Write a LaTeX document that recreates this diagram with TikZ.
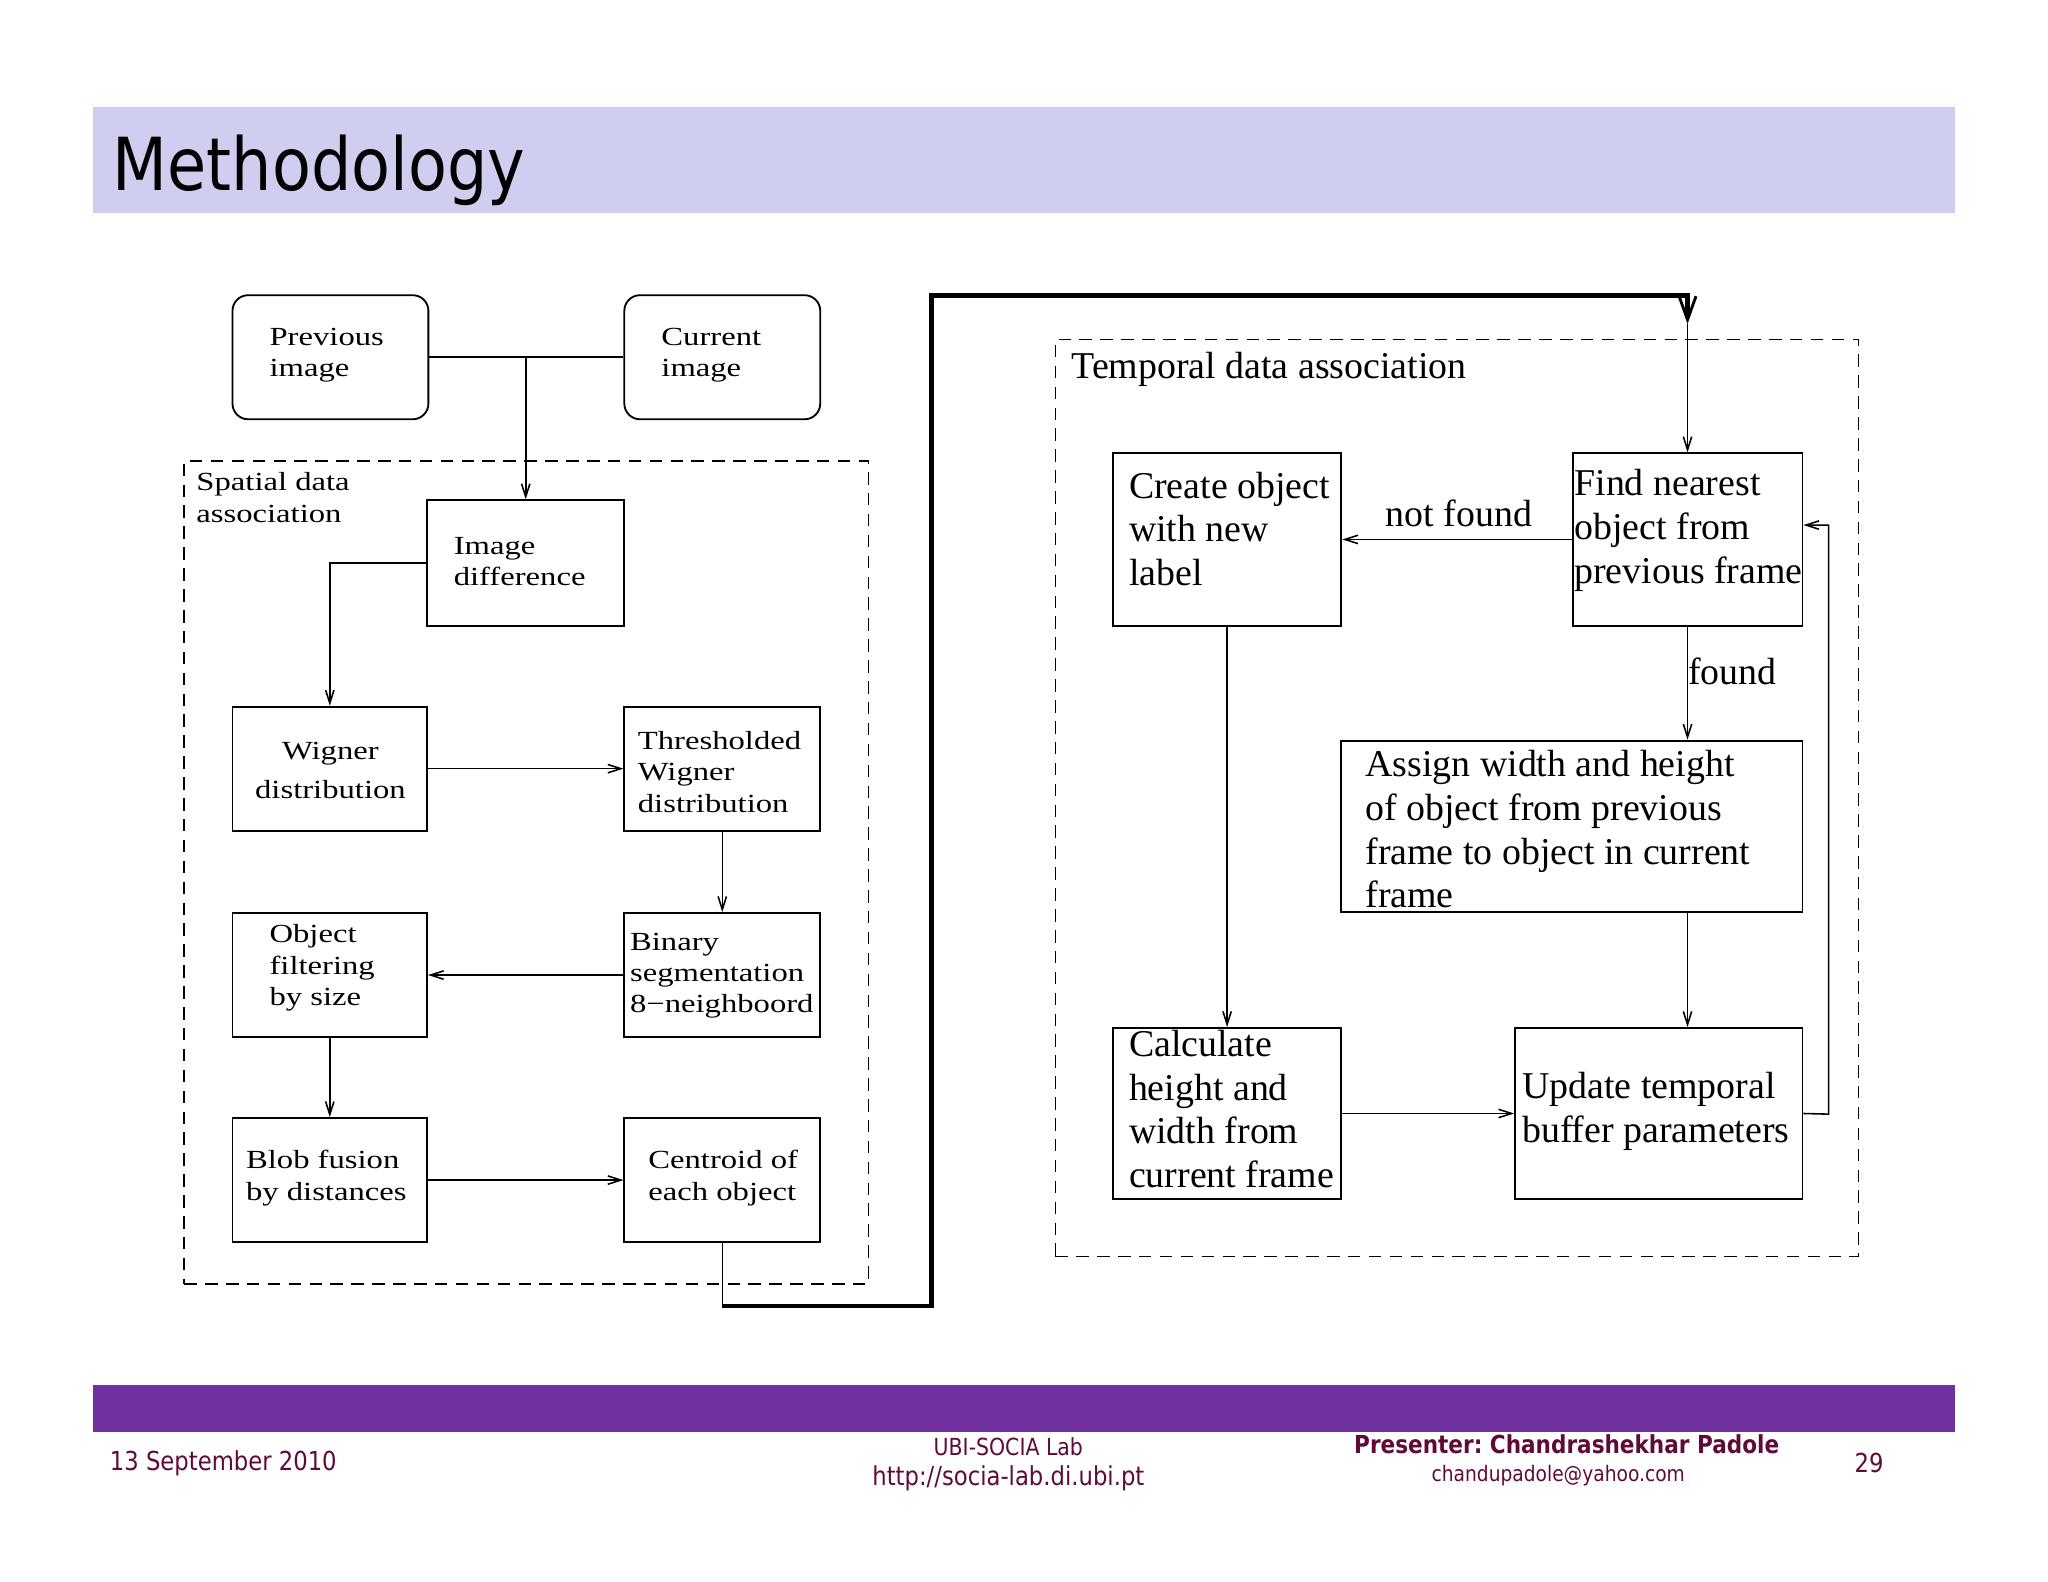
\documentclass[tikz,border=0pt]{standalone}
\usepackage{fontspec}
\setmainfont{Liberation Serif}
\newfontfamily\lfont[FakeStretch=1.25]{Liberation Serif}
\newfontfamily\rfont{Liberation Serif}
\newfontfamily\sfont[FakeStretch=0.87]{DejaVu Sans}
\usetikzlibrary{arrows.meta,fit,calc}
\definecolor{titlebg}{HTML}{D0CEF0}
\definecolor{footbg}{HTML}{7030A0}
\definecolor{foottxt}{HTML}{600A3A}
\frenchspacing
\begin{document}
\begin{tikzpicture}[x=0.5pt,y=-0.5pt,
  box/.style={draw, line width=0.7pt, inner sep=0pt},
  rbox/.style={box, rounded corners=6pt},
  grp/.style={draw, dash pattern=on 4.8pt off 3.2pt, line width=0.65pt, inner sep=0pt},
  ltxt/.style={font=\lfont\fontsize{10}{12}\selectfont, align=left, inner sep=0pt, anchor=west},
  rtxt/.style={font=\rfont\fontsize{14.5}{16.7}\selectfont, align=left, inner sep=0pt, anchor=west},
  ln/.style={line width=0.6pt},
  arr/.style={ln, -{Straight Barb[length=5pt,width=3.2pt]}},
  thk/.style={line width=1.8pt},
  thkarr/.style={thk, -{Straight Barb[length=9pt,width=6.5pt,line width=1.1pt]}},
  ftxt/.style={font=\sfont\fontsize{10}{12}\selectfont, text=foottxt, inner sep=0pt}]
\useasboundingbox (0,0) rectangle (1568,1211);
% header and footer bars
\fill[titlebg] (71,82) rectangle (1497,163);
\node[anchor=base west, inner sep=0pt, font=\sfont\fontsize{28}{30}\selectfont] (title) at (86,146) {Methodology};
\fill[footbg] (71,1060) rectangle (1497,1096);
\node[ftxt] (date) at (171,1120) {13 September 2010};
\node[ftxt, font=\sfont\fontsize{9}{11}\selectfont] (lab) at (772,1108) {UBI-SOCIA Lab};
\node[ftxt] (url) at (772,1132) {http://socia-lab.di.ubi.pt};
\node[ftxt, font=\sfont\bfseries\fontsize{9.5}{11}\selectfont] (pres) at (1199.5,1106) {Presenter: Chandrashekhar Padole};
\node[ftxt, font=\sfont\fontsize{8.2}{10}\selectfont] (mail) at (1193,1130) {chandupadole@yahoo.com};
\node[ftxt] (pg) at (1431,1120) {29};
% group frames
\node[grp, fit={(141,353) (665,983)}] (spatial) {};
\node[grp, fit={(808,260) (1423,962)}] (temporal) {};
\node[ltxt] (spT) at (150,381) {Spatial data\\association};
\node[rtxt] (tempT) at (820,283) {Temporal data association};
% left boxes
\node[rbox, fit={(178,226) (328,321)}] (prev) {};
\node[rbox, fit={(478,226) (628,321)}] (cur) {};
\node[box, fit={(327,383) (478,479)}] (imgd) {};
\node[box, fit={(178,541) (327,636)}] (wig) {};
\node[box, fit={(478,541) (628,636)}] (thr) {};
\node[box, fit={(478,699) (628,794)}] (bin) {};
\node[box, fit={(178,699) (327,794)}] (obj) {};
\node[box, fit={(178,856) (327,951)}] (blob) {};
\node[box, fit={(478,856) (628,951)}] (cen) {};
\node[ltxt] (prevT) at (206,272) {Previous\\image};
\node[ltxt] (curT) at (506,272) {Current\\image};
\node[ltxt] (imgdT) at (347,430) {Image\\difference};
\node[ltxt, anchor=center, align=center] (wigT) at (253,590) {Wigner\\[3pt]distribution};
\node[ltxt] (thrT) at (488,591) {Thresholded\\Wigner\\distribution};
\node[ltxt] (binT) at (482,747) {Binary\\segmentation\\8−neighboord};
\node[ltxt] (objT) at (206,741) {Object\\filtering\\by size};
\node[ltxt] (blobT) at (188,902) {Blob fusion\\by distances};
\node[ltxt] (cenT) at (496,902) {Centroid of\\each object};
% right boxes
\node[box, fit={(852,347) (1027,479)}] (cre) {};
\node[box, fit={(1204,347) (1380,479)}] (fin) {};
\node[box, fit={(1027,567) (1380,698)}] (asg) {};
\node[box, fit={(852,787) (1027,918)}] (cal) {};
\node[box, fit={(1160,787) (1380,918)}] (upd) {};
\node[rtxt] (creT) at (864,405) {Create object\\with new\\label};
\node[rtxt] (finT) at (1205,406) {Find nearest\\object from\\previous frame};
\node[rtxt] (asgT) at (1045,635) {Assign width and height\\of object from previous\\frame to object in current\\frame};
\node[rtxt] (calT) at (864,849) {Calculate\\height and\\width from\\current frame};
\node[rtxt] (updT) at (1165,851) {Update temporal\\buffer parameters};
\node[rtxt, anchor=center] (nf) at (1117,393) {not found};
\node[rtxt] (fd) at (1292,514) {found};
% left connectors
\draw[ln] (prev.east) -- (cur.west);
\draw[arr] (prev.east -| imgd.north) -- (imgd.north);
\draw[arr] (imgd.west) -| (wig.north);
\draw[arr] (wig.east) -- (thr.west);
\draw[arr] (thr.south) -- (bin.north);
\draw[arr] (bin.west) -- (obj.east);
\draw[arr] (obj.south) -- (blob.north);
\draw[arr] (blob.east) -- (cen.west);
% link between the two parts
\coordinate (c1) at (553,1000);
\coordinate (c2) at (1292,248);
\draw[ln] (cen.south) -- (c1);
\draw[thkarr] (c1) -- (713,1000) -- (713,226) -- (1292,226) -- (c2);
\draw[arr] (c2) -- (fin.north);
% right connectors
\draw[arr] (fin.west) -- (cre.east);
\draw[arr] (fin.south) -- (fin.south |- asg.north);
\draw[arr] (fin.south |- asg.south) -- (fin.south |- upd.north);
\draw[arr] (cre.south) -- (cal.north);
\draw[arr] (cal.east) -- (upd.west);
\draw[arr] (upd.east) -- (1400,853) |- ([yshift=5.5pt]fin.east);
\end{tikzpicture}
\end{document}
